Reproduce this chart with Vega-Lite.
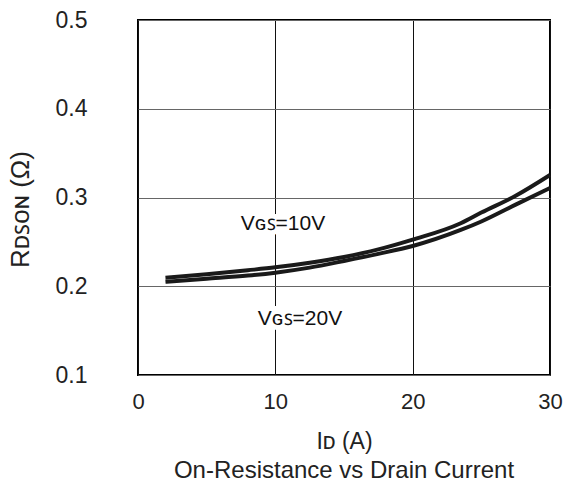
{
  "$schema": "https://vega.github.io/schema/vega-lite/v6.json",
  "width": 412,
  "height": 355,
  "autosize": {"type": "none"},
  "padding": {"left": 138, "top": 20, "right": 15, "bottom": 113},
  "background": "white",
  "config": {
    "font": "Liberation Sans",
    "view": {"stroke": "black", "strokeWidth": 2}
  },
  "title": {
    "text": "On-Resistance vs Drain Current",
    "orient": "bottom",
    "fontSize": 24,
    "fontWeight": "normal",
    "font": "Liberation Sans",
    "color": "#222",
    "offset": 6
  },
  "datasets": {
    "curves": [
      {"id": 2, "r": 0.2096, "s": "VGS=10V"},
      {"id": 5, "r": 0.2134, "s": "VGS=10V"},
      {"id": 8, "r": 0.218, "s": "VGS=10V"},
      {"id": 10, "r": 0.2213, "s": "VGS=10V"},
      {"id": 12.5, "r": 0.2265, "s": "VGS=10V"},
      {"id": 15, "r": 0.233, "s": "VGS=10V"},
      {"id": 17.5, "r": 0.2415, "s": "VGS=10V"},
      {"id": 20, "r": 0.2525, "s": "VGS=10V"},
      {"id": 23.5, "r": 0.271, "s": "VGS=10V"},
      {"id": 25, "r": 0.283, "s": "VGS=10V"},
      {"id": 27.5, "r": 0.302, "s": "VGS=10V"},
      {"id": 30, "r": 0.3254, "s": "VGS=10V"},
      {"id": 2, "r": 0.2051, "s": "VGS=20V"},
      {"id": 5, "r": 0.2085, "s": "VGS=20V"},
      {"id": 8, "r": 0.212, "s": "VGS=20V"},
      {"id": 10, "r": 0.2153, "s": "VGS=20V"},
      {"id": 12.5, "r": 0.221, "s": "VGS=20V"},
      {"id": 15, "r": 0.2285, "s": "VGS=20V"},
      {"id": 17.5, "r": 0.2365, "s": "VGS=20V"},
      {"id": 20, "r": 0.2453, "s": "VGS=20V"},
      {"id": 23.5, "r": 0.2634, "s": "VGS=20V"},
      {"id": 25, "r": 0.273, "s": "VGS=20V"},
      {"id": 27.5, "r": 0.292, "s": "VGS=20V"},
      {"id": 30, "r": 0.3107, "s": "VGS=20V"}
    ],
    "labels": [
      {"id": 10.56, "r": 0.2634, "label": "Vɢꜱ=10V"},
      {"id": 11.8, "r": 0.1563, "label": "Vɢꜱ=20V"}
    ]
  },
  "layer": [
    {
      "data": {"name": "curves"},
      "mark": {"type": "line", "color": "#1a1a1a", "strokeWidth": 4, "interpolate": "monotone"},
      "encoding": {
        "x": {
          "field": "id", "type": "quantitative",
          "scale": {"domain": [0, 30]},
          "axis": {
            "values": [0, 10, 20, 30],
            "title": "Iᴅ (A)",
            "titleFontSize": 23, "titleFontWeight": "normal", "titleColor": "#222",
            "titlePadding": 18,
            "labelFontSize": 22, "labelColor": "#222", "labelPadding": 16,
            "labelFlush": false, "labelOverlap": false,
            "tickSize": 0, "domain": false,
            "grid": true, "gridColor": "#111", "gridOpacity": 1, "gridWidth": 1
          }
        },
        "y": {
          "field": "r", "type": "quantitative",
          "scale": {"domain": [0.1, 0.5]},
          "axis": {
            "values": [0.1, 0.2, 0.3, 0.4, 0.5],
            "format": ".1f",
            "title": "Rᴅꜱᴏɴ (Ω)",
            "titleFontSize": 26, "titleFontWeight": "normal", "titleColor": "#222",
            "titlePadding": 22,
            "titleY": 189,
            "labelFontSize": 23, "labelColor": "#222", "labelPadding": 51,
            "labelFlush": false, "labelOverlap": false,
            "tickSize": 0, "domain": false,
            "grid": true, "gridColor": "#666", "gridOpacity": 1, "gridWidth": 1
          }
        },
        "detail": {"field": "s"}
      }
    },
    {
      "data": {"name": "labels"},
      "mark": {"type": "text", "fontSize": 21, "align": "center", "baseline": "alphabetic", "stroke": "white", "strokeWidth": 10, "fill": "white"},
      "encoding": {
        "x": {"field": "id", "type": "quantitative"},
        "y": {"field": "r", "type": "quantitative"},
        "text": {"field": "label"}
      }
    },
    {
      "data": {"name": "labels"},
      "mark": {"type": "text", "fontSize": 21, "align": "center", "baseline": "alphabetic", "color": "#111"},
      "encoding": {
        "x": {"field": "id", "type": "quantitative"},
        "y": {"field": "r", "type": "quantitative"},
        "text": {"field": "label"}
      }
    }
  ]
}
